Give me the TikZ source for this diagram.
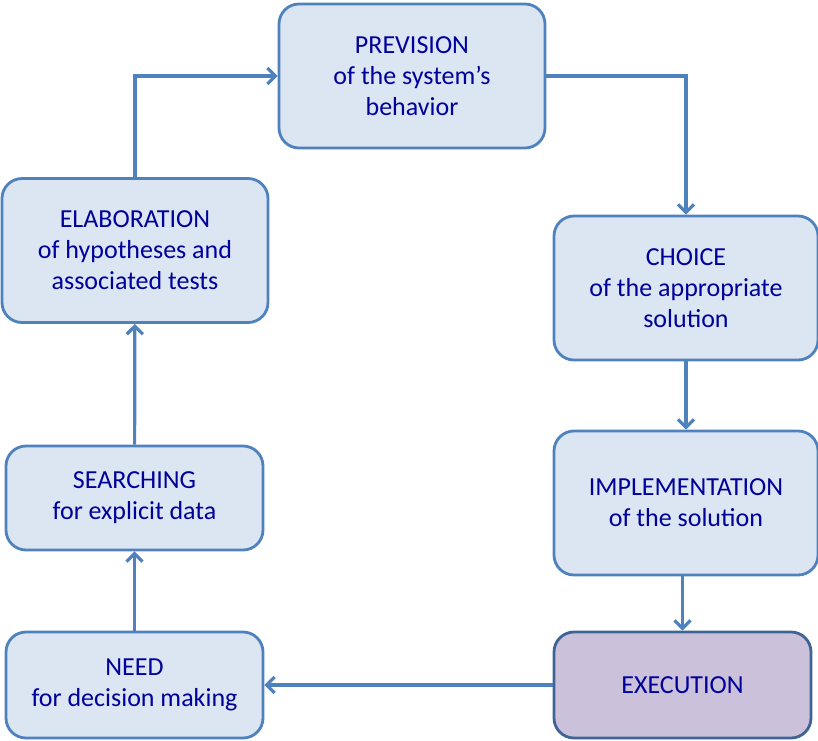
\documentclass[tikz,border=0pt]{standalone}
\usepackage{fontspec}
\setmainfont{Carlito}
\usetikzlibrary{arrows.meta, positioning, calc}
\definecolor{boxline}{HTML}{4F81BD}
\definecolor{boxfill}{HTML}{DCE6F2}
\definecolor{execfill}{HTML}{CCC1DA}
\definecolor{execline}{HTML}{3E6496}
\definecolor{txtblue}{HTML}{00009A}

\begin{document}
\begin{tikzpicture}[x=0.5pt,y=-0.5pt,>={Straight Barb[length=4pt,width=8pt]},line width=1.4pt,
    stage/.style={draw=boxline, fill=boxfill, rounded corners=10pt, align=center, text=txtblue,
        font=\fontsize{13}{15.5}\selectfont, minimum width=133pt, minimum height=72pt},
    flow/.style={->, draw=boxline, line width=1.6pt}]
    \useasboundingbox (0,0) rectangle (818,740);

    % Etapas del ciclo
    \node[stage] (prevision) at (412,76) {PREVISION\\of the system’s\\behavior};
    \node[stage] (elab) at (135,250.5) {ELABORATION\\of hypotheses and\\associated tests};
    \node[stage, minimum width=132pt] (choice) at (686,288) {CHOICE\\of the appropriate\\solution};
    \node[stage, minimum width=132pt] (impl) at (686,503) {IMPLEMENTATION\\of the solution};
    \node[stage, minimum width=128.5pt, minimum height=52pt] (search) at (134.5,498) {SEARCHING\\for explicit data};
    \node[stage, minimum width=128.5pt, minimum height=53pt] (need) at (134.5,685) {NEED\\for decision making};
    \node[stage, minimum width=128.5pt, minimum height=53pt, fill=execfill, draw=execline] (exec) at (682.5,685) {EXECUTION};

    % Flechas
    \draw[flow] (elab.north) |- (prevision.west);
    \draw[flow] (prevision.east) -| (choice.north);
    \draw[flow] (choice) -- (impl);
    \draw[flow] (exec.north |- impl.south) -- (exec.north);
    \draw[flow] (exec.west) -- (need.east);
    \draw[flow] (need) -- (search);
    \draw[flow] (search) -- (elab);
\end{tikzpicture}
\end{document}
